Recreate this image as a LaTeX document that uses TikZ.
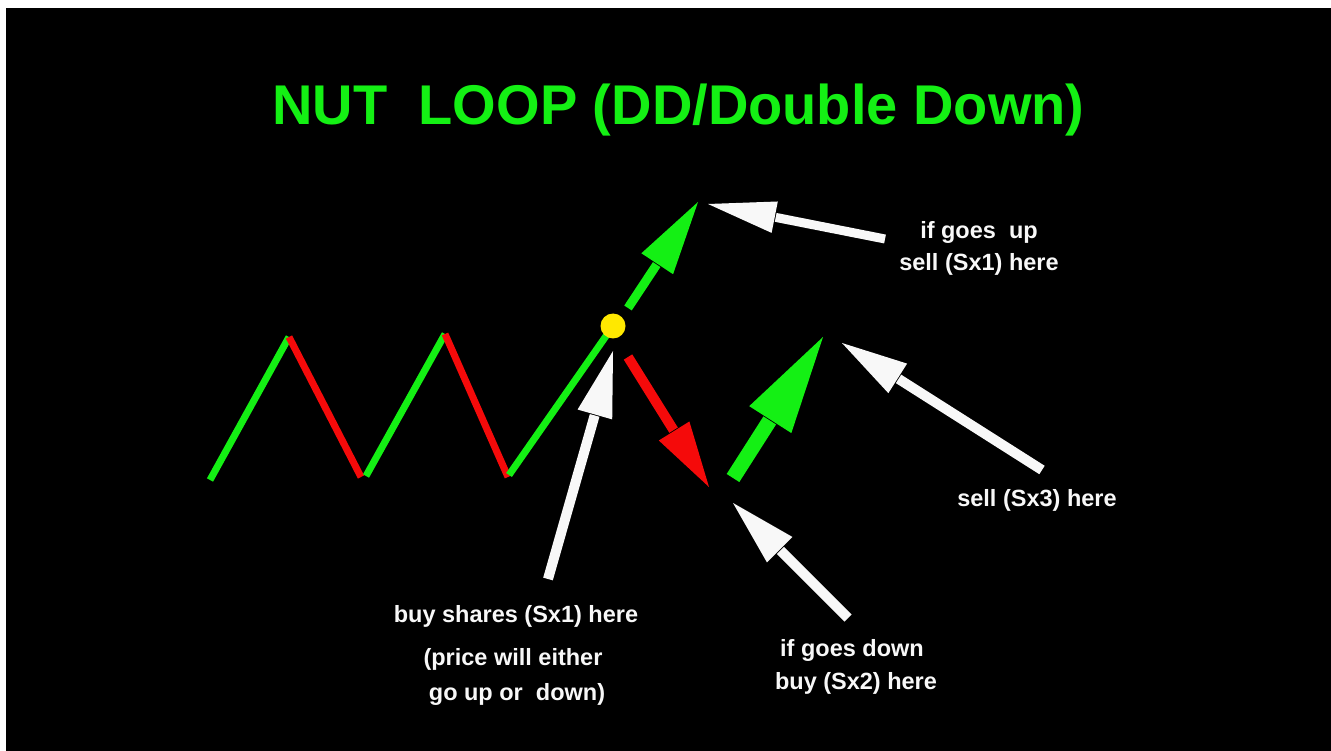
\documentclass[tikz,border=0pt]{standalone}
\usepackage{fontspec}
\setmainfont{Liberation Sans}
\usetikzlibrary{calc}
\definecolor{gr}{RGB}{20,240,20}
\definecolor{rd}{RGB}{245,10,10}
\definecolor{wh}{RGB}{248,248,248}
\definecolor{yl}{RGB}{255,232,0}
\tikzset{
  seg/.style={line width=7pt, line cap=butt},
  label/.style={text=wh, font=\bfseries\fontsize{23.5}{26}\selectfont, anchor=base, inner sep=0pt},
}
% #1 colour, #2 start, #3 tip, #4 head length, #5 half head width, #6 shaft width
\newcommand{\fatarrow}[6]{%
  \path ($(#3)!#4!(#2)$) coordinate (hb);
  \draw[draw=#1, line width=#6, line cap=butt] (#2) -- ($(hb)!-1pt!(#3)$);
  \fill[#1] (#3) -- ($(hb)!#5!90:(#3)$) -- ($(hb)!#5!-90:(#3)$) -- cycle;
}
\begin{document}
\begin{tikzpicture}[x=1pt,y=-1pt]
\useasboundingbox (0,0) rectangle (1331,751);
\fill[white] (0,0) rectangle (1331,751);
\fill[black] (6,8) rectangle (1331,751);
% title
\node[text=gr, font=\bfseries\fontsize{56}{60}\selectfont, anchor=base, inner sep=0pt] (title) at (678.5,125) {NUT\ \ LOOP (DD/Double Down)};
% zigzag points
\coordinate (p0) at (210,480);
\coordinate (p1) at (289,337);
\coordinate (p2) at (361,477);
\coordinate (p2b) at (366,476);
\coordinate (p3) at (445,334);
\coordinate (p4) at (508,477);
\coordinate (p4b) at (509,475);
\draw[seg, gr] (p0) -- (p1);
\draw[seg, rd] (p1) -- (p2);
\draw[seg, gr] (p2b) -- (p3);
\draw[seg, rd] (p3) -- (p4);
% yellow dot
\coordinate (dc) at (613,326);
\draw[seg, gr] (p4b) -- (dc);
\node[circle, fill=yl, draw=none, inner sep=0pt, minimum size=25pt] (dot) at (dc) {};
% coloured arrows
\coordinate (g1s) at (628,308);
\coordinate (g1t) at (698,202);
\fatarrow{gr}{g1s}{g1t}{74pt}{19pt}{9pt}
\coordinate (r1s) at (628,357);
\coordinate (r1t) at (709,487);
\fatarrow{rd}{r1s}{r1t}{66pt}{18pt}{10pt}
\coordinate (g2s) at (733,478);
\coordinate (g2t) at (823,337);
\fatarrow{gr}{g2s}{g2t}{98pt}{25pt}{15pt}
% labels
\node[label] (up1) at (979,239) {if goes\ \ up};
\node[label] (up2) at (979,271) {sell (Sx1) here};
\node[label] (s3) at (1037,506) {sell (Sx3) here};
\node[label] (b1) at (516,622) {buy shares (Sx1) here};
\node[label] (b2) at (513,665) {(price will either};
\node[label] (b3) at (517,700) {go up or\ \ down)};
\node[label] (d1) at (852,656) {if goes down};
\node[label] (d2) at (856,689) {buy (Sx2) here};
% white arrows
\coordinate (w1s) at (885,239);
\coordinate (w1t) at (708,204);
\fatarrow{wh}{w1s}{w1t}{68pt}{16pt}{9pt}
\coordinate (w2s) at (1042,470);
\coordinate (w2t) at (842,343);
\fatarrow{wh}{w2s}{w2t}{66pt}{17.5pt}{10pt}
\coordinate (w3s) at (548,579);
\coordinate (w3t) at (613,351);
\fatarrow{wh}{w3s}{w3t}{66pt}{18pt}{10pt}
\coordinate (w4s) at (848,618);
\coordinate (w4t) at (733,503);
\fatarrow{wh}{w4s}{w4t}{66pt}{18pt}{10pt}
\end{tikzpicture}
\end{document}
